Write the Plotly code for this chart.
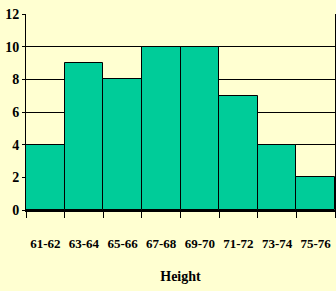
import plotly.graph_objects as go

categories = ["61-62", "63-64", "65-66", "67-68", "69-70", "71-72", "73-74", "75-76"]
counts = [4, 9, 8, 10, 10, 7, 4, 2]
y_ticks = [0, 2, 4, 6, 8, 10, 12]
x_title = "Height"

bg = "#FFFFD1"
font_family = "Liberation Serif, Times New Roman, serif"

fig = go.Figure(go.Bar(
    x=categories, y=counts,
    marker=dict(color="#00CC99", line=dict(color="#000000", width=1)),
))

fig.update_layout(
    width=336, height=291,
    margin=dict(l=26, r=1, t=14, b=81, autoexpand=False),
    paper_bgcolor=bg, plot_bgcolor=bg,
    bargap=0,
    showlegend=False,
    font=dict(family=font_family, color="#000000", size=13),
)
fig.update_xaxes(
    type="category", automargin=False,
    showline=True, linecolor="#000000", linewidth=2,
    ticks="outside", tickson="boundaries", ticklen=6, tickcolor="#000000", tickwidth=1,
    tickangle=0,
    tickfont=dict(family=font_family, size=13, weight="bold"),
    ticklabelstandoff=20,
    title=dict(text="<b>" + x_title + "</b>", standoff=22,
               font=dict(family=font_family, size=14)),
    showgrid=False,
)
fig.update_yaxes(
    range=[0, 12], tickvals=y_ticks, automargin=False,
    showline=True, linecolor="#000000", linewidth=1, mirror=True,
    ticks="outside", ticklen=3, tickcolor="#000000",
    tickfont=dict(family=font_family, size=14, weight="bold"),
    ticklabeloverflow="allow",
    showgrid=True, gridcolor="#000000", gridwidth=1,
    zeroline=False,
)

fig.write_html(
    "out.html",
    config={"displayModeBar": False},
    post_script="document.body.style.margin='0';document.body.style.background='%s';" % bg,
)
